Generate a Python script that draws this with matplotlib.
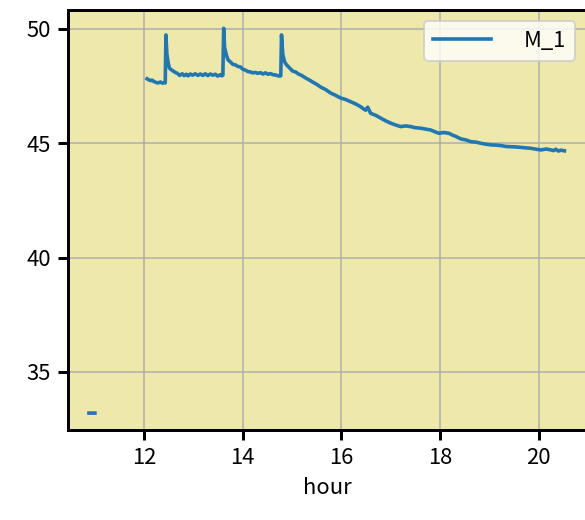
import numpy as np
import matplotlib
matplotlib.use('Agg')
import matplotlib.pyplot as plt
from matplotlib.ticker import MultipleLocator

plt.rcParams['font.family'] = ['Noto Sans CJK JP', 'DejaVu Sans']
plt.rcParams['font.size'] = 11

# hour of day vs value of M_1
hours = [10.88, 11.0, 11.5,
         12.06, 12.09, 12.13, 12.16, 12.2, 12.24, 12.28, 12.33, 12.37, 12.41,
         12.427, 12.441, 12.46, 12.488, 12.51, 12.528, 12.56, 12.589, 12.63,
         12.671, 12.72, 12.772, 12.81, 12.854, 12.89, 12.935, 12.98, 13.037,
         13.09, 13.138, 13.19, 13.24, 13.29, 13.341, 13.39, 13.443, 13.49,
         13.545, 13.575, 13.596, 13.612, 13.63, 13.667, 13.7, 13.748, 13.8,
         13.85, 13.9, 13.951, 14.0, 14.053, 14.1, 14.154, 14.2, 14.256, 14.3,
         14.358, 14.41, 14.459, 14.51, 14.561, 14.61, 14.663, 14.7, 14.744,
         14.77, 14.785, 14.81, 14.846, 14.88, 14.927, 14.97, 15.008, 15.07,
         15.13, 15.2, 15.272, 15.34, 15.415, 15.5, 15.577, 15.68, 15.78, 15.88,
         15.984, 16.08, 16.187, 16.29, 16.39, 16.45, 16.492, 16.533, 16.593,
         16.7, 16.797, 16.9, 17.0, 17.1, 17.203, 17.3, 17.407, 17.5, 17.61,
         17.71, 17.813, 17.9, 17.976, 18.08, 18.179, 18.25, 18.321, 18.423,
         18.52, 18.626, 18.73, 18.829, 18.93, 19.033, 19.13, 19.236, 19.34,
         19.439, 19.54, 19.642, 19.74, 19.846, 19.95, 20.049, 20.15, 20.252,
         20.3, 20.35, 20.4, 20.455, 20.522]
m1 = [33.2, 33.2, np.nan,
      47.82, 47.78, 47.74, 47.76, 47.7, 47.66, 47.64, 47.68, 47.63, 47.65,
      47.64, 49.74, 48.9, 48.5, 48.3, 48.25, 48.2, 48.16, 48.1,
      48.06, 47.97, 48.04, 47.96, 48.02, 47.95, 48.03, 47.98, 48.04,
      47.97, 48.03, 47.97, 48.04, 47.96, 48.03, 47.98, 48.02, 47.94,
      48.0, 47.95, 47.98, 50.03, 49.2, 48.86, 48.65, 48.56, 48.45,
      48.43, 48.36, 48.34, 48.24, 48.2, 48.14, 48.12, 48.08, 48.1, 48.06,
      48.09, 48.03, 48.08, 48.02, 48.05, 48.0, 47.99, 47.96, 47.94,
      47.95, 49.74, 48.9, 48.57, 48.45, 48.34, 48.25, 48.16, 48.12,
      48.03, 47.96, 47.86, 47.78, 47.68, 47.58, 47.46, 47.35, 47.2, 47.1,
      46.98, 46.92, 46.82, 46.72, 46.6, 46.5, 46.45, 46.58, 46.31,
      46.22, 46.1, 45.98, 45.88, 45.8, 45.73, 45.76, 45.73, 45.68, 45.66,
      45.62, 45.58, 45.5, 45.44, 45.47, 45.44, 45.36, 45.3, 45.19,
      45.15, 45.07, 45.05, 45.0, 44.96, 44.93, 44.92, 44.9, 44.86,
      44.85, 44.84, 44.82, 44.8, 44.78, 44.74, 44.71, 44.75, 44.71,
      44.68, 44.74, 44.66, 44.7, 44.67]

fig = plt.figure(figsize=(585/144, 520/144), dpi=144)
ax = fig.add_axes([68/585, 90/520, 518/585, 420/520])
ax.set_facecolor('palegoldenrod')
ax.plot(hours, m1, color='tab:blue', lw=1.8, label='M_1')
ax.set_xlim(10.455, 20.96)
ax.set_ylim(32.46, 50.83)
ax.yaxis.set_major_locator(MultipleLocator(5))
ax.grid(True)
for s in ax.spines.values():
    s.set_linewidth(1.5)
ax.tick_params(width=1.5, length=5)
ax.set_xlabel('hour')
ax.legend(loc='upper right', handlelength=2.65, handletextpad=1.5)

fig.savefig('out.png', dpi=144)
